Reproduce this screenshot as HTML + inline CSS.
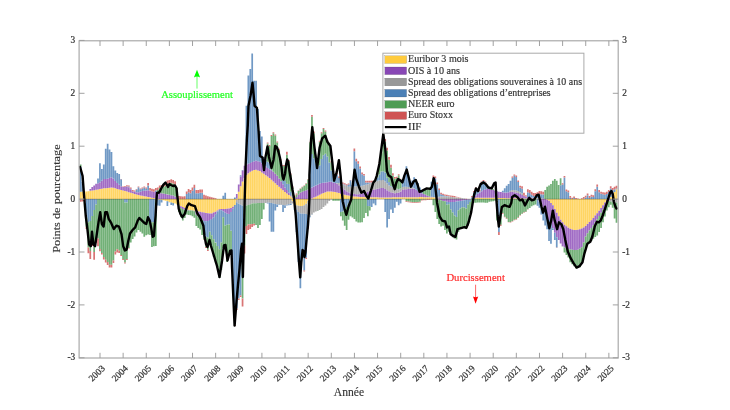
<!DOCTYPE html>
<html><head><meta charset="utf-8"><title>IIF</title>
<style>html,body{margin:0;padding:0;background:#fff;width:730px;height:410px;overflow:hidden}body{position:relative;font-family:"Liberation Serif",serif}</style></head>
<body>
<svg width="730" height="410" viewBox="0 0 730 410" style="position:absolute;left:0;top:0">
<rect width="730" height="410" fill="#fff"/>
<g filter="url(#soft)">
<g>
<path d="M79.79 191.64h1.72v7.46h-1.72zM81.72 191.5h1.72v7.6h-1.72zM83.65 191.6h1.72v7.5h-1.72zM85.57 191.42h1.72v7.68h-1.72zM87.5 191.2h1.72v7.9h-1.72zM89.43 190.78h1.72v8.32h-1.72zM91.36 190.5h1.72v8.6h-1.72zM93.28 190.21h1.72v8.89h-1.72zM95.21 189.87h1.72v9.23h-1.72zM97.14 189.48h1.72v9.62h-1.72zM99.07 189.1h1.72v10h-1.72zM100.99 188.71h1.72v10.39h-1.72zM102.92 188.34h1.72v10.76h-1.72zM104.85 188.15h1.72v10.95h-1.72zM106.78 187.96h1.72v11.14h-1.72zM108.7 187.77h1.72v11.33h-1.72zM110.63 187.57h1.72v11.53h-1.72zM112.56 187.85h1.72v11.25h-1.72zM114.48 188.37h1.72v10.73h-1.72zM116.41 188.88h1.72v10.22h-1.72zM118.34 189.39h1.72v9.71h-1.72zM120.27 189.91h1.72v9.19h-1.72zM122.2 190.44h1.72v8.66h-1.72zM124.12 191.02h1.72v8.08h-1.72zM126.05 191.6h1.72v7.5h-1.72zM127.98 192.18h1.72v6.92h-1.72zM129.91 192.76h1.72v6.34h-1.72zM131.83 193.34h1.72v5.76h-1.72zM133.76 193.91h1.72v5.19h-1.72zM135.69 194.49h1.72v4.61h-1.72zM137.62 195h1.72v4.1h-1.72zM139.54 195.38h1.72v3.72h-1.72zM141.47 195.77h1.72v3.33h-1.72zM143.4 196.15h1.72v2.95h-1.72zM145.32 196.54h1.72v2.56h-1.72zM147.25 196.92h1.72v2.18h-1.72zM149.18 197.31h1.72v1.79h-1.72zM151.11 197.69h1.72v1.41h-1.72zM153.03 198.11h1.72v0.99h-1.72zM154.96 198.58h1.72v0.52h-1.72zM156.89 199.1h1.72v0.31h-1.72zM158.82 199.1h1.72v0.53h-1.72zM160.75 199.1h1.72v0.74h-1.72zM162.67 199.1h1.72v1.06h-1.72zM164.6 199.1h1.72v1.64h-1.72zM166.53 199.1h1.72v2.22h-1.72zM168.45 199.1h1.72v2.79h-1.72zM170.38 199.1h1.72v3.37h-1.72zM172.31 199.1h1.72v3.97h-1.72zM174.24 199.1h1.72v4.5h-1.72zM176.16 199.1h1.72v5.4h-1.72zM178.09 199.1h1.72v6.28h-1.72zM180.02 199.1h1.72v7.05h-1.72zM181.95 199.1h1.72v7.82h-1.72zM183.88 199.1h1.72v8.94h-1.72zM185.8 199.1h1.72v10.1h-1.72zM187.73 199.1h1.72v10.97h-1.72zM189.66 199.1h1.72v11.21h-1.72zM191.58 199.1h1.72v11.46h-1.72zM193.51 199.1h1.72v11.7h-1.72zM195.44 199.1h1.72v11.96h-1.72zM197.37 199.1h1.72v12.35h-1.72zM199.29 199.1h1.72v12.73h-1.72zM201.22 199.1h1.72v13.12h-1.72zM203.15 199.1h1.72v13.5h-1.72zM205.08 199.1h1.72v13.89h-1.72zM207 199.1h1.72v14.2h-1.72zM208.93 199.1h1.72v14.51h-1.72zM210.86 199.1h1.72v14.37h-1.72zM212.79 199.1h1.72v13.48h-1.72zM214.72 199.1h1.72v12.6h-1.72zM216.64 199.1h1.72v11.46h-1.72zM218.57 199.1h1.72v10.26h-1.72zM220.5 199.1h1.72v9.9h-1.72zM222.42 199.1h1.72v9.9h-1.72zM224.35 199.1h1.72v9.9h-1.72zM226.28 199.1h1.72v9.67h-1.72zM228.21 199.1h1.72v9.29h-1.72zM230.13 199.1h1.72v8.9h-1.72zM232.06 199.1h1.72v7.53h-1.72zM233.99 199.1h1.72v5.82h-1.72zM235.92 198.62h1.72v0.48h-1.72zM235.92 199.1h1.72v0.95h-1.72zM237.84 191.69h1.72v7.41h-1.72zM239.77 186.27h1.72v12.83h-1.72zM241.7 181.45h1.72v17.65h-1.72zM243.63 178h1.72v21.1h-1.72zM245.55 174.94h1.72v24.16h-1.72zM247.48 173.33h1.72v25.77h-1.72zM249.41 171.73h1.72v27.37h-1.72zM251.34 170.63h1.72v28.47h-1.72zM253.26 170.02h1.72v29.08h-1.72zM255.19 169.78h1.72v29.32h-1.72zM257.12 170.4h1.72v28.7h-1.72zM259.05 171.08h1.72v28.02h-1.72zM260.98 172.43h1.72v26.67h-1.72zM262.9 173.78h1.72v25.32h-1.72zM264.83 175.13h1.72v23.97h-1.72zM266.76 176.48h1.72v22.62h-1.72zM268.69 178.09h1.72v21.01h-1.72zM270.61 179.82h1.72v19.28h-1.72zM272.54 181.55h1.72v17.55h-1.72zM274.47 183.29h1.72v15.81h-1.72zM276.39 185.02h1.72v14.08h-1.72zM278.32 186.76h1.72v12.34h-1.72zM280.25 188.49h1.72v10.61h-1.72zM282.18 190.23h1.72v8.87h-1.72zM284.11 191.96h1.72v7.14h-1.72zM286.03 193.46h1.72v5.64h-1.72zM287.96 194.91h1.72v4.19h-1.72zM289.89 196.35h1.72v2.75h-1.72zM291.81 197.64h1.72v1.46h-1.72zM291.81 199.1h1.72v2.18h-1.72zM293.74 198.51h1.72v0.59h-1.72zM293.74 199.1h1.72v4.46h-1.72zM295.67 199.1h1.72v6.26h-1.72zM297.6 199.1h1.72v6.75h-1.72zM299.52 199.1h1.72v6.81h-1.72zM301.45 199.1h1.72v6.88h-1.72zM303.38 199.1h1.72v6.07h-1.72zM305.31 199.1h1.72v4.67h-1.72zM307.24 199.1h1.72v1.97h-1.72zM311.09 198.38h1.72v0.72h-1.72zM313.02 197.51h1.72v1.59h-1.72zM314.94 196.64h1.72v2.46h-1.72zM316.87 195.74h1.72v3.36h-1.72zM318.8 194.78h1.72v4.32h-1.72zM320.73 193.81h1.72v5.29h-1.72zM322.65 192.98h1.72v6.12h-1.72zM324.58 192.21h1.72v6.89h-1.72zM326.51 191.47h1.72v7.63h-1.72zM328.44 191.47h1.72v7.63h-1.72zM330.37 191.47h1.72v7.63h-1.72zM332.29 191.64h1.72v7.46h-1.72zM334.22 192.09h1.72v7.01h-1.72zM336.15 192.54h1.72v6.56h-1.72zM338.08 193.08h1.72v6.02h-1.72zM340 193.66h1.72v5.44h-1.72zM341.93 194.24h1.72v4.86h-1.72zM343.86 194.78h1.72v4.32h-1.72zM345.78 195.17h1.72v3.93h-1.72zM347.71 195.55h1.72v3.55h-1.72zM349.64 195.94h1.72v3.16h-1.72zM351.57 196.2h1.72v2.9h-1.72zM353.5 196.39h1.72v2.71h-1.72zM355.42 196.58h1.72v2.52h-1.72zM357.35 196.78h1.72v2.32h-1.72zM359.28 196.94h1.72v2.16h-1.72zM361.21 197.02h1.72v2.08h-1.72zM363.13 197.1h1.72v2h-1.72zM365.06 197.18h1.72v1.92h-1.72zM366.99 197.25h1.72v1.85h-1.72zM368.91 197.28h1.72v1.82h-1.72zM370.84 197.3h1.72v1.8h-1.72zM372.77 197.32h1.72v1.78h-1.72zM374.7 197.34h1.72v1.76h-1.72zM376.62 197.36h1.72v1.74h-1.72zM378.55 197.38h1.72v1.72h-1.72zM380.48 197.4h1.72v1.7h-1.72zM382.41 197.42h1.72v1.68h-1.72zM384.34 197.44h1.72v1.66h-1.72zM386.26 197.42h1.72v1.68h-1.72zM388.19 197.4h1.72v1.7h-1.72zM390.12 197.38h1.72v1.72h-1.72zM392.04 197.36h1.72v1.74h-1.72zM393.97 197.35h1.72v1.75h-1.72zM395.9 197.33h1.72v1.77h-1.72zM397.83 197.31h1.72v1.79h-1.72zM399.75 197.29h1.72v1.81h-1.72zM401.68 197.27h1.72v1.83h-1.72zM403.61 197.25h1.72v1.85h-1.72zM405.54 197.23h1.72v1.87h-1.72zM407.47 197.22h1.72v1.88h-1.72zM409.39 197.2h1.72v1.9h-1.72zM411.32 197.18h1.72v1.92h-1.72zM413.25 197.17h1.72v1.93h-1.72zM415.17 197.15h1.72v1.95h-1.72zM417.1 197.13h1.72v1.97h-1.72zM419.03 197.12h1.72v1.98h-1.72zM420.96 197.1h1.72v2h-1.72zM422.88 197.14h1.72v1.96h-1.72zM424.81 197.18h1.72v1.92h-1.72zM426.74 197.22h1.72v1.88h-1.72zM428.67 197.26h1.72v1.84h-1.72zM430.6 197.3h1.72v1.8h-1.72zM432.52 197.34h1.72v1.76h-1.72zM434.45 197.39h1.72v1.71h-1.72zM436.38 198.45h1.72v0.65h-1.72zM473 198.4h1.72v0.7h-1.72zM474.93 197.68h1.72v1.42h-1.72zM476.86 197.62h1.72v1.48h-1.72zM478.78 197.64h1.72v1.46h-1.72zM480.71 197.66h1.72v1.44h-1.72zM482.64 197.67h1.72v1.43h-1.72zM484.56 197.69h1.72v1.41h-1.72zM486.49 197.71h1.72v1.39h-1.72zM488.42 197.73h1.72v1.37h-1.72zM490.35 197.75h1.72v1.35h-1.72zM492.27 197.77h1.72v1.33h-1.72zM494.2 197.79h1.72v1.31h-1.72zM496.13 197.84h1.72v1.26h-1.72zM498.06 197.9h1.72v1.2h-1.72zM499.99 197.97h1.72v1.13h-1.72zM501.91 198.04h1.72v1.06h-1.72zM503.84 198.11h1.72v0.99h-1.72zM505.77 198.18h1.72v0.92h-1.72zM507.69 198.25h1.72v0.85h-1.72zM509.62 198.3h1.72v0.8h-1.72zM511.55 198.32h1.72v0.78h-1.72zM513.48 198.33h1.72v0.77h-1.72zM515.4 198.34h1.72v0.76h-1.72zM517.33 198.35h1.72v0.75h-1.72zM519.26 198.37h1.72v0.73h-1.72zM521.19 198.38h1.72v0.72h-1.72zM523.12 198.39h1.72v0.71h-1.72zM525.04 198.41h1.72v0.69h-1.72zM526.97 198.42h1.72v0.68h-1.72zM528.9 198.43h1.72v0.67h-1.72zM530.83 198.44h1.72v0.66h-1.72zM532.75 198.46h1.72v0.64h-1.72zM534.68 198.47h1.72v0.63h-1.72zM536.61 198.48h1.72v0.62h-1.72zM538.53 198.5h1.72v0.6h-1.72zM540.46 198.7h1.72v0.4h-1.72zM546.25 199.1h1.72v0.67h-1.72zM548.17 199.1h1.72v1.63h-1.72zM550.1 199.1h1.72v3.86h-1.72zM552.03 199.1h1.72v6.27h-1.72zM553.96 199.1h1.72v9.9h-1.72zM555.88 199.1h1.72v13.75h-1.72zM557.81 199.1h1.72v17.21h-1.72zM559.74 199.1h1.72v20.59h-1.72zM561.66 199.1h1.72v23.19h-1.72zM563.59 199.1h1.72v25.6h-1.72zM565.52 199.1h1.72v27.27h-1.72zM567.45 199.1h1.72v28.71h-1.72zM569.38 199.1h1.72v29.66h-1.72zM571.3 199.1h1.72v30.43h-1.72zM573.23 199.1h1.72v30.78h-1.72zM575.16 199.1h1.72v30.98h-1.72zM577.09 199.1h1.72v30.7h-1.72zM579.01 199.1h1.72v30.22h-1.72zM580.94 199.1h1.72v29.42h-1.72zM582.87 199.1h1.72v28.45h-1.72zM584.79 199.1h1.72v26.87h-1.72zM586.72 199.1h1.72v24.94h-1.72zM588.65 199.1h1.72v23.01h-1.72zM590.58 199.1h1.72v21.09h-1.72zM592.5 199.1h1.72v18.87h-1.72zM594.43 199.1h1.72v16.46h-1.72zM596.36 199.1h1.72v14.05h-1.72zM598.29 199.1h1.72v11.64h-1.72zM600.21 199.1h1.72v8.97h-1.72zM602.14 199.1h1.72v6.08h-1.72zM604.07 199.1h1.72v3.36h-1.72zM606 199.1h1.72v0.79h-1.72zM609.85 196.93h1.72v2.17h-1.72zM611.78 194.78h1.72v4.32h-1.72zM613.71 192.02h1.72v7.08h-1.72zM615.63 189.28h1.72v9.82h-1.72z" fill="#ffd564"/>
<path d="M89.43 188.9h1.72v1.88h-1.72zM91.36 186.99h1.72v3.51h-1.72zM93.28 185.39h1.72v4.81h-1.72zM95.21 184.1h1.72v5.76h-1.72zM97.14 183.14h1.72v6.34h-1.72zM99.07 182.18h1.72v6.92h-1.72zM100.99 180.63h1.72v8.08h-1.72zM102.92 179.12h1.72v9.22h-1.72zM104.85 178.89h1.72v9.26h-1.72zM106.78 178.66h1.72v9.3h-1.72zM108.7 177.96h1.72v9.81h-1.72zM110.63 177.18h1.72v10.39h-1.72zM112.56 178.65h1.72v9.21h-1.72zM114.48 181h1.72v7.37h-1.72zM116.41 182.92h1.72v5.96h-1.72zM118.34 184.79h1.72v4.6h-1.72zM120.27 186.24h1.72v3.67h-1.72zM122.2 187.05h1.72v3.39h-1.72zM124.12 186.73h1.72v4.29h-1.72zM126.05 186.41h1.72v5.19h-1.72zM127.98 187.34h1.72v4.84h-1.72zM129.91 189.27h1.72v3.49h-1.72zM131.83 191.19h1.72v2.14h-1.72zM133.76 191.82h1.72v2.09h-1.72zM135.69 192.21h1.72v2.28h-1.72zM137.62 192.34h1.72v2.66h-1.72zM139.54 191.68h1.72v3.7h-1.72zM141.47 191.03h1.72v4.74h-1.72zM143.4 190.67h1.72v5.48h-1.72zM145.32 190.48h1.72v6.06h-1.72zM147.25 190.33h1.72v6.6h-1.72zM149.18 190.79h1.72v6.52h-1.72zM151.11 191.25h1.72v6.44h-1.72zM153.03 191.68h1.72v6.43h-1.72zM154.96 192.06h1.72v6.51h-1.72zM156.89 192.45h1.72v6.65h-1.72zM158.82 192.84h1.72v6.26h-1.72zM160.75 193.22h1.72v5.88h-1.72zM162.67 193.61h1.72v5.49h-1.72zM164.6 193.99h1.72v5.11h-1.72zM166.53 194.38h1.72v4.72h-1.72zM168.45 194.76h1.72v4.34h-1.72zM170.38 195.15h1.72v3.95h-1.72zM172.31 195.59h1.72v3.51h-1.72zM174.24 196.55h1.72v2.55h-1.72zM176.16 198.03h1.72v1.07h-1.72zM178.09 205.38h1.72v0.57h-1.72zM180.02 206.15h1.72v1.73h-1.72zM181.95 206.92h1.72v1.98h-1.72zM183.88 208.04h1.72v1.83h-1.72zM185.8 209.2h1.72v1.31h-1.72zM187.73 210.07h1.72v0.46h-1.72zM189.66 210.31h1.72v0.24h-1.72zM193.51 210.8h1.72v0.53h-1.72zM195.44 211.06h1.72v3.7h-1.72zM197.37 211.45h1.72v5h-1.72zM199.29 211.83h1.72v6.29h-1.72zM201.22 212.22h1.72v7.35h-1.72zM203.15 212.6h1.72v8.4h-1.72zM205.08 212.99h1.72v8.34h-1.72zM207 213.3h1.72v7.77h-1.72zM208.93 213.61h1.72v6.5h-1.72zM210.86 213.47h1.72v5.43h-1.72zM212.79 212.58h1.72v4.71h-1.72zM214.72 211.7h1.72v2.68h-1.72zM216.64 210.56h1.72v1.02h-1.72zM218.57 209.36h1.72v0.62h-1.72zM220.5 209h1.72v1.18h-1.72zM222.42 209h1.72v2.24h-1.72zM224.35 209h1.72v3.84h-1.72zM226.28 208.77h1.72v4.92h-1.72zM228.21 208.39h1.72v5.55h-1.72zM230.13 208h1.72v4h-1.72zM232.06 206.63h1.72v2.01h-1.72zM235.92 194h1.72v4.62h-1.72zM237.84 184.6h1.72v7.09h-1.72zM239.77 176.41h1.72v9.86h-1.72zM241.7 170.41h1.72v11.04h-1.72zM243.63 165.8h1.72v12.2h-1.72zM245.55 164.81h1.72v10.13h-1.72zM247.48 163.85h1.72v9.48h-1.72zM249.41 162.89h1.72v8.84h-1.72zM251.34 162.02h1.72v8.61h-1.72zM253.26 161.25h1.72v8.77h-1.72zM255.19 160.84h1.72v8.94h-1.72zM257.12 161.22h1.72v9.18h-1.72zM259.05 161.71h1.72v9.37h-1.72zM260.98 163.26h1.72v9.17h-1.72zM262.9 164.8h1.72v8.98h-1.72zM264.83 166.34h1.72v8.79h-1.72zM266.76 167.88h1.72v8.6h-1.72zM268.69 169.17h1.72v8.92h-1.72zM270.61 170.32h1.72v9.5h-1.72zM272.54 171.83h1.72v9.72h-1.72zM274.47 173.76h1.72v9.53h-1.72zM276.39 175.87h1.72v9.15h-1.72zM278.32 178.57h1.72v8.19h-1.72zM280.25 181.28h1.72v7.22h-1.72zM282.18 184.36h1.72v5.87h-1.72zM284.11 187.45h1.72v4.52h-1.72zM286.03 190.11h1.72v3.35h-1.72zM287.96 192.68h1.72v2.23h-1.72zM289.89 195.15h1.72v1.2h-1.72zM291.81 197.08h1.72v0.56h-1.72zM295.67 197.01h1.72v2.09h-1.72zM297.6 194.64h1.72v4.46h-1.72zM299.52 192.52h1.72v6.58h-1.72zM301.45 191.79h1.72v7.31h-1.72zM303.38 191.07h1.72v8.03h-1.72zM305.31 190.35h1.72v8.75h-1.72zM307.24 189.47h1.72v9.63h-1.72zM309.16 188.5h1.72v10.6h-1.72zM311.09 187.54h1.72v10.84h-1.72zM313.02 186.58h1.72v10.93h-1.72zM314.94 185.61h1.72v11.03h-1.72zM316.87 184.65h1.72v11.09h-1.72zM318.8 183.69h1.72v11.09h-1.72zM320.73 183.09h1.72v10.72h-1.72zM322.65 182.77h1.72v10.21h-1.72zM324.58 182.45h1.72v9.76h-1.72zM326.51 182.13h1.72v9.34h-1.72zM328.44 181.81h1.72v9.66h-1.72zM330.37 181.74h1.72v9.73h-1.72zM332.29 182.38h1.72v9.26h-1.72zM334.22 183.02h1.72v9.06h-1.72zM336.15 184.06h1.72v8.48h-1.72zM338.08 185.34h1.72v7.74h-1.72zM340 186.63h1.72v7.03h-1.72zM341.93 188.22h1.72v6.02h-1.72zM343.86 189.82h1.72v4.96h-1.72zM345.78 191.24h1.72v3.92h-1.72zM347.71 192.2h1.72v3.35h-1.72zM349.64 193.17h1.72v2.77h-1.72zM351.57 193.67h1.72v2.53h-1.72zM353.5 193.91h1.72v2.48h-1.72zM355.42 194.15h1.72v2.43h-1.72zM357.35 194.32h1.72v2.46h-1.72zM359.28 193.84h1.72v3.11h-1.72zM361.21 193.36h1.72v3.66h-1.72zM363.13 192.88h1.72v4.22h-1.72zM365.06 192.26h1.72v4.92h-1.72zM366.99 191.54h1.72v5.72h-1.72zM368.91 190.81h1.72v6.47h-1.72zM370.84 190.09h1.72v7.21h-1.72zM372.77 189.61h1.72v7.71h-1.72zM374.7 189.13h1.72v8.21h-1.72zM376.62 188.65h1.72v8.71h-1.72zM378.55 188.3h1.72v9.08h-1.72zM380.48 188.11h1.72v9.29h-1.72zM382.41 187.92h1.72v9.5h-1.72zM384.34 188.89h1.72v8.55h-1.72zM386.26 190.13h1.72v7.3h-1.72zM388.19 191.2h1.72v6.21h-1.72zM390.12 192.16h1.72v5.22h-1.72zM392.04 192.77h1.72v4.59h-1.72zM393.97 193.31h1.72v4.03h-1.72zM395.9 193.11h1.72v4.22h-1.72zM397.83 192.45h1.72v4.86h-1.72zM399.75 191.49h1.72v5.8h-1.72zM401.68 189.88h1.72v7.39h-1.72zM403.61 189.35h1.72v7.9h-1.72zM405.54 189.16h1.72v8.07h-1.72zM407.47 188.95h1.72v8.26h-1.72zM409.39 188.68h1.72v8.52h-1.72zM411.32 188.41h1.72v8.77h-1.72zM413.25 188.9h1.72v8.27h-1.72zM415.17 189.94h1.72v7.21h-1.72zM417.1 190.98h1.72v6.15h-1.72zM419.03 192.06h1.72v5.06h-1.72zM420.96 193.14h1.72v3.96h-1.72zM422.88 194.1h1.72v3.04h-1.72zM424.81 194.87h1.72v2.31h-1.72zM426.74 195.64h1.72v1.58h-1.72zM428.67 196.31h1.72v0.95h-1.72zM430.6 196.85h1.72v0.45h-1.72zM432.52 197.09h1.72v0.26h-1.72zM436.38 197.73h1.72v0.72h-1.72zM438.3 198.24h1.72v0.86h-1.72zM438.3 199.1h1.72v0.64h-1.72zM440.23 199.1h1.72v1.23h-1.72zM442.16 199.1h1.72v1.83h-1.72zM444.09 199.1h1.72v2.26h-1.72zM446.01 199.1h1.72v2.57h-1.72zM447.94 199.1h1.72v2.87h-1.72zM449.87 199.1h1.72v2.9h-1.72zM451.8 199.1h1.72v2.9h-1.72zM453.73 199.1h1.72v2.82h-1.72zM455.65 199.1h1.72v2.52h-1.72zM457.58 199.1h1.72v2.22h-1.72zM459.51 199.1h1.72v1.9h-1.72zM461.43 199.1h1.72v1.56h-1.72zM463.36 199.1h1.72v1.23h-1.72zM465.29 199.1h1.72v0.99h-1.72zM467.22 199.1h1.72v0.77h-1.72zM469.14 199.1h1.72v0.54h-1.72zM473 196.98h1.72v1.42h-1.72zM474.93 195.38h1.72v2.3h-1.72zM476.86 193.77h1.72v3.85h-1.72zM478.78 192.43h1.72v5.2h-1.72zM480.71 191.15h1.72v6.51h-1.72zM482.64 189.98h1.72v7.69h-1.72zM484.56 189.34h1.72v8.35h-1.72zM486.49 188.7h1.72v9.02h-1.72zM488.42 188.74h1.72v9h-1.72zM490.35 189.38h1.72v8.37h-1.72zM492.27 190.02h1.72v7.75h-1.72zM494.2 190.66h1.72v7.13h-1.72zM496.13 191.31h1.72v6.53h-1.72zM498.06 191.86h1.72v6.04h-1.72zM499.99 192.1h1.72v5.87h-1.72zM501.91 192.34h1.72v5.7h-1.72zM503.84 192.58h1.72v5.53h-1.72zM505.77 192.5h1.72v5.68h-1.72zM507.69 192.26h1.72v5.99h-1.72zM509.62 192.02h1.72v6.29h-1.72zM511.55 191.85h1.72v6.46h-1.72zM513.48 192.17h1.72v6.16h-1.72zM515.4 192.49h1.72v5.85h-1.72zM517.33 193.12h1.72v5.23h-1.72zM519.26 194.09h1.72v4.28h-1.72zM521.19 195.05h1.72v3.33h-1.72zM523.12 195.75h1.72v2.64h-1.72zM525.04 196.39h1.72v2.01h-1.72zM526.97 196.98h1.72v1.44h-1.72zM528.9 197.3h1.72v1.13h-1.72zM530.83 197.62h1.72v0.82h-1.72zM532.75 197.86h1.72v0.6h-1.72zM534.68 198h1.72v0.47h-1.72zM536.61 198.14h1.72v0.34h-1.72zM538.53 198.29h1.72v0.21h-1.72zM538.53 199.1h1.72v2.54h-1.72zM540.46 198.38h1.72v0.32h-1.72zM540.46 199.1h1.72v5.74h-1.72zM542.39 198.47h1.72v0.52h-1.72zM542.39 199.1h1.72v9.22h-1.72zM544.32 199.1h1.72v13.07h-1.72zM546.25 199.77h1.72v16.26h-1.72zM548.17 200.73h1.72v19.15h-1.72zM550.1 202.96h1.72v20.78h-1.72zM552.03 205.37h1.72v22.78h-1.72zM553.96 209h1.72v23.64h-1.72zM555.88 212.85h1.72v24.28h-1.72zM557.81 216.31h1.72v23.59h-1.72zM559.74 219.69h1.72v23.81h-1.72zM561.66 222.29h1.72v23.88h-1.72zM563.59 224.7h1.72v22.78h-1.72zM565.52 226.37h1.72v22.08h-1.72zM567.45 227.81h1.72v21.23h-1.72zM569.38 228.76h1.72v20.77h-1.72zM571.3 229.53h1.72v20.27h-1.72zM573.23 229.88h1.72v20.11h-1.72zM575.16 230.08h1.72v19.83h-1.72zM577.09 229.8h1.72v19.92h-1.72zM579.01 229.32h1.72v19.35h-1.72zM580.94 228.52h1.72v18.71h-1.72zM582.87 227.55h1.72v14.96h-1.72zM584.79 225.97h1.72v10.56h-1.72zM586.72 224.04h1.72v9.28h-1.72zM588.65 222.11h1.72v8.39h-1.72zM590.58 220.19h1.72v7.74h-1.72zM592.5 217.97h1.72v7.39h-1.72zM594.43 215.56h1.72v6.85h-1.72zM596.36 213.15h1.72v6.05h-1.72zM598.29 210.74h1.72v5.25h-1.72zM600.21 208.07h1.72v4.71h-1.72zM602.14 205.18h1.72v4.38h-1.72zM604.07 202.46h1.72v3.9h-1.72zM606 199.89h1.72v3.58h-1.72zM607.92 199.1h1.72v1.8h-1.72z" fill="#a06bc4"/>
<path d="M235.92 200.05h1.72v2.09h-1.72zM237.84 199.1h1.72v4.75h-1.72zM239.77 199.1h1.72v5.72h-1.72zM241.7 199.1h1.72v6.68h-1.72zM243.63 199.1h1.72v6.71h-1.72zM245.55 199.1h1.72v6.47h-1.72zM247.48 199.1h1.72v5.86h-1.72zM249.41 199.1h1.72v5.09h-1.72zM251.34 199.1h1.72v4.38h-1.72zM253.26 199.1h1.72v4.22h-1.72zM255.19 199.1h1.72v4.06h-1.72zM257.12 199.1h1.72v3.9h-1.72zM259.05 199.1h1.72v3.9h-1.72zM260.98 199.1h1.72v3.9h-1.72zM262.9 199.1h1.72v3.9h-1.72zM264.83 199.1h1.72v3.81h-1.72zM266.76 199.1h1.72v3.57h-1.72zM268.69 199.1h1.72v3.53h-1.72zM270.61 199.1h1.72v4h-1.72zM272.54 199.1h1.72v4.47h-1.72zM274.47 199.1h1.72v4.94h-1.72zM276.39 199.1h1.72v5.34h-1.72zM278.32 199.1h1.72v5.52h-1.72zM280.25 199.1h1.72v5.71h-1.72zM282.18 199.1h1.72v5.89h-1.72zM284.11 199.1h1.72v6.07h-1.72zM286.03 199.1h1.72v5.7h-1.72zM287.96 199.1h1.72v5.21h-1.72zM289.89 199.1h1.72v4.72h-1.72zM291.81 201.28h1.72v2.22h-1.72zM293.74 203.56h1.72v3.76h-1.72zM295.67 205.36h1.72v4.59h-1.72zM297.6 205.85h1.72v6.22h-1.72zM299.52 205.91h1.72v7.62h-1.72zM301.45 205.98h1.72v7.69h-1.72zM303.38 205.17h1.72v8.64h-1.72zM305.31 203.77h1.72v10.19h-1.72zM307.24 201.07h1.72v13.89h-1.72zM309.16 199.1h1.72v17.27h-1.72zM311.09 199.1h1.72v15.4h-1.72zM313.02 199.1h1.72v13.32h-1.72zM314.94 199.1h1.72v12.44h-1.72zM316.87 199.1h1.72v11.65h-1.72zM318.8 199.1h1.72v10.99h-1.72zM320.73 199.1h1.72v9.8h-1.72zM322.65 199.1h1.72v7.9h-1.72zM324.58 199.1h1.72v6.31h-1.72zM326.51 199.1h1.72v4.34h-1.72zM328.44 199.1h1.72v1.9h-1.72zM330.37 199.1h1.72v0.3h-1.72zM336.15 183.21h1.72v0.85h-1.72zM338.08 183.02h1.72v2.32h-1.72zM340 183.52h1.72v3.1h-1.72zM341.93 184.15h1.72v4.07h-1.72zM343.86 185.13h1.72v4.7h-1.72zM345.78 186.11h1.72v5.13h-1.72zM347.71 186.7h1.72v5.5h-1.72zM349.64 186.7h1.72v6.47h-1.72zM351.57 186.7h1.72v6.97h-1.72zM353.5 186.56h1.72v7.35h-1.72zM355.42 186.37h1.72v7.78h-1.72zM357.35 186.17h1.72v8.15h-1.72zM359.28 185.91h1.72v7.93h-1.72zM361.21 185.64h1.72v7.72h-1.72zM363.13 185.26h1.72v7.62h-1.72zM365.06 184.74h1.72v7.52h-1.72zM366.99 184.22h1.72v7.31h-1.72zM368.91 183.61h1.72v7.21h-1.72zM370.84 182.97h1.72v7.13h-1.72zM372.77 182.31h1.72v7.3h-1.72zM374.7 181.55h1.72v7.58h-1.72zM376.62 180.8h1.72v7.85h-1.72zM378.55 180.31h1.72v7.99h-1.72zM380.48 180.12h1.72v7.99h-1.72zM382.41 179.93h1.72v7.99h-1.72zM384.34 181.59h1.72v7.3h-1.72zM386.26 183.62h1.72v6.5h-1.72zM388.19 185.55h1.72v5.65h-1.72zM390.12 186.88h1.72v5.29h-1.72zM392.04 187.62h1.72v5.15h-1.72zM393.97 188.33h1.72v4.98h-1.72zM395.9 189.01h1.72v4.1h-1.72zM397.83 189.69h1.72v2.76h-1.72zM399.75 188.47h1.72v3.02h-1.72zM401.68 186.88h1.72v3h-1.72zM403.61 186.65h1.72v2.71h-1.72zM405.54 186.84h1.72v2.32h-1.72zM407.47 187.02h1.72v1.94h-1.72zM409.39 187.14h1.72v1.55h-1.72zM411.32 187.25h1.72v1.16h-1.72zM413.25 188.15h1.72v0.74h-1.72zM415.17 189.64h1.72v0.3h-1.72zM436.38 197.16h1.72v0.57h-1.72zM438.3 196.85h1.72v1.39h-1.72zM440.23 196.55h1.72v2.55h-1.72zM442.16 196.43h1.72v2.67h-1.72zM444.09 196.47h1.72v2.63h-1.72zM446.01 196.52h1.72v2.58h-1.72zM447.94 196.57h1.72v2.53h-1.72zM449.87 196.69h1.72v2.41h-1.72zM451.8 196.91h1.72v2.19h-1.72zM453.73 197.13h1.72v1.97h-1.72zM455.65 197.38h1.72v1.72h-1.72zM457.58 197.67h1.72v1.43h-1.72zM459.51 197.96h1.72v1.14h-1.72zM461.43 198.25h1.72v0.85h-1.72zM463.36 198.6h1.72v0.5h-1.72zM509.62 190.8h1.72v1.21h-1.72zM511.55 190.12h1.72v1.74h-1.72zM513.48 190.27h1.72v1.91h-1.72zM515.4 190.42h1.72v2.08h-1.72zM517.33 191.03h1.72v2.1h-1.72zM519.26 192.16h1.72v1.93h-1.72zM521.19 193.29h1.72v1.76h-1.72zM609.85 199.1h1.72v2.48h-1.72zM611.78 199.1h1.72v3.12h-1.72zM613.71 199.1h1.72v3.37h-1.72zM615.63 199.1h1.72v3.62h-1.72z" fill="#adadad"/>
<path d="M79.79 166.8h1.72v24.84h-1.72zM81.72 182h1.72v9.5h-1.72zM85.57 199.1h1.72v18.25h-1.72zM87.5 199.1h1.72v23.1h-1.72zM89.43 199.1h1.72v21.84h-1.72zM91.36 199.1h1.72v16.82h-1.72zM93.28 199.1h1.72v10.88h-1.72zM95.21 183.78h1.72v0.32h-1.72zM95.21 199.1h1.72v5.49h-1.72zM97.14 178.5h1.72v4.64h-1.72zM99.07 163.2h1.72v18.98h-1.72zM100.99 169h1.72v11.63h-1.72zM102.92 164.5h1.72v14.62h-1.72zM104.85 148.8h1.72v30.09h-1.72zM106.78 143.8h1.72v34.86h-1.72zM108.7 149.5h1.72v28.46h-1.72zM110.63 152h1.72v25.18h-1.72zM112.56 166.2h1.72v12.45h-1.72zM114.48 170.5h1.72v10.5h-1.72zM116.41 173h1.72v9.92h-1.72zM118.34 174h1.72v10.79h-1.72zM120.27 179.28h1.72v6.95h-1.72zM122.2 199.1h1.72v0.19h-1.72zM124.12 199.1h1.72v3.4h-1.72zM126.05 186.2h1.72v0.21h-1.72zM126.05 199.1h1.72v3.4h-1.72zM127.98 186.5h1.72v0.83h-1.72zM129.91 188.75h1.72v0.52h-1.72zM133.76 191.56h1.72v0.27h-1.72zM135.69 189.6h1.72v2.61h-1.72zM137.62 187.22h1.72v5.11h-1.72zM139.54 189.35h1.72v2.34h-1.72zM141.47 188.47h1.72v2.56h-1.72zM143.4 187.59h1.72v3.08h-1.72zM145.32 188.8h1.72v1.68h-1.72zM147.25 185.39h1.72v4.93h-1.72zM149.18 190.5h1.72v0.29h-1.72zM149.18 199.1h1.72v23.2h-1.72zM151.11 199.1h1.72v23.2h-1.72zM153.03 199.1h1.72v23.2h-1.72zM154.96 190.5h1.72v1.56h-1.72zM156.89 199.41h1.72v6.09h-1.72zM158.82 199.63h1.72v6.17h-1.72zM160.75 199.84h1.72v2.55h-1.72zM166.53 201.32h1.72v4.68h-1.72zM168.45 201.89h1.72v0.41h-1.72zM170.38 202.47h1.72v2.53h-1.72zM172.31 203.07h1.72v2.43h-1.72zM185.8 194.01h1.72v5.09h-1.72zM187.73 192.2h1.72v6.9h-1.72zM189.66 193.21h1.72v5.89h-1.72zM191.58 190.73h1.72v8.37h-1.72zM193.51 188.04h1.72v11.06h-1.72zM195.44 193.26h1.72v5.84h-1.72zM197.37 193.27h1.72v5.83h-1.72zM199.29 192.78h1.72v6.32h-1.72zM201.22 192.8h1.72v6.3h-1.72zM203.15 221h1.72v11.02h-1.72zM205.08 221.32h1.72v15.52h-1.72zM207 221.07h1.72v16.55h-1.72zM208.93 220.1h1.72v11.56h-1.72zM210.86 218.9h1.72v16.26h-1.72zM212.79 217.29h1.72v22h-1.72zM214.72 214.37h1.72v28.25h-1.72zM216.64 211.58h1.72v34.32h-1.72zM218.57 209.97h1.72v39.4h-1.72zM220.5 210.18h1.72v32.25h-1.72zM222.42 195.7h1.72v3.4h-1.72zM222.42 211.24h1.72v5.92h-1.72zM224.35 192.8h1.72v6.3h-1.72zM224.35 212.84h1.72v12.58h-1.72zM226.28 213.69h1.72v11.03h-1.72zM228.21 213.93h1.72v10.67h-1.72zM230.13 212h1.72v18.64h-1.72zM232.06 208.64h1.72v80.67h-1.72zM233.99 197.4h1.72v1.7h-1.72zM233.99 204.92h1.72v119.58h-1.72zM235.92 202.13h1.72v106.37h-1.72zM237.84 203.85h1.72v94.65h-1.72zM239.77 175.2h1.72v1.21h-1.72zM239.77 204.82h1.72v90.68h-1.72zM241.7 170.1h1.72v0.31h-1.72zM241.7 205.78h1.72v56.58h-1.72zM245.55 105.8h1.72v59.01h-1.72zM247.48 75.4h1.72v88.45h-1.72zM249.41 69.1h1.72v93.79h-1.72zM251.34 53.4h1.72v108.62h-1.72zM253.26 80.7h1.72v80.55h-1.72zM255.19 80.7h1.72v80.14h-1.72zM257.12 109h1.72v52.22h-1.72zM259.05 131h1.72v30.71h-1.72zM260.98 136.5h1.72v26.76h-1.72zM262.9 157h1.72v7.8h-1.72zM264.83 160h1.72v6.34h-1.72zM266.76 161.81h1.72v6.07h-1.72zM266.76 202.67h1.72v0.83h-1.72zM268.69 162.77h1.72v6.39h-1.72zM268.69 202.63h1.72v18.87h-1.72zM270.61 169.63h1.72v0.7h-1.72zM270.61 203.1h1.72v28.6h-1.72zM272.54 203.57h1.72v28.13h-1.72zM274.47 204.04h1.72v6.36h-1.72zM276.39 204.44h1.72v2.56h-1.72zM278.32 204.62h1.72v0.38h-1.72zM280.25 204.81h1.72v0.19h-1.72zM282.18 180.02h1.72v4.34h-1.72zM282.18 204.99h1.72v7.01h-1.72zM284.11 180.98h1.72v6.46h-1.72zM284.11 205.17h1.72v2.83h-1.72zM286.03 183.84h1.72v6.27h-1.72zM286.03 204.8h1.72v0.7h-1.72zM287.96 184h1.72v8.68h-1.72zM287.96 204.31h1.72v0.86h-1.72zM289.89 191.86h1.72v3.29h-1.72zM289.89 203.82h1.72v1.18h-1.72zM291.81 196.41h1.72v0.67h-1.72zM293.74 207.32h1.72v2.68h-1.72zM295.67 209.95h1.72v22.05h-1.72zM297.6 212.07h1.72v49.93h-1.72zM299.52 213.53h1.72v74.67h-1.72zM301.45 213.67h1.72v38.33h-1.72zM303.38 213.81h1.72v56.59h-1.72zM305.31 213.95h1.72v43.85h-1.72zM307.24 214.95h1.72v12.55h-1.72zM309.16 158.92h1.72v29.58h-1.72zM309.16 216.37h1.72v0.83h-1.72zM311.09 153.91h1.72v33.63h-1.72zM311.09 214.5h1.72v0.22h-1.72zM313.02 158.19h1.72v28.39h-1.72zM314.94 163.36h1.72v22.25h-1.72zM316.87 166.41h1.72v18.24h-1.72zM318.8 165.18h1.72v18.51h-1.72zM320.73 159.04h1.72v24.06h-1.72zM322.65 155.26h1.72v27.52h-1.72zM324.58 153.68h1.72v28.77h-1.72zM326.51 156.53h1.72v25.6h-1.72zM328.44 162.38h1.72v19.43h-1.72zM330.37 170.49h1.72v11.25h-1.72zM332.29 174.31h1.72v8.07h-1.72zM334.22 175.88h1.72v7.14h-1.72zM336.15 174.48h1.72v8.72h-1.72zM338.08 178.04h1.72v4.99h-1.72zM340 181.32h1.72v2.2h-1.72zM340 199.1h1.72v12.9h-1.72zM341.93 183.79h1.72v0.36h-1.72zM341.93 199.1h1.72v12.46h-1.72zM343.86 184.49h1.72v0.64h-1.72zM343.86 199.1h1.72v11.52h-1.72zM345.78 185.62h1.72v0.49h-1.72zM345.78 199.1h1.72v7.98h-1.72zM347.71 184.44h1.72v2.26h-1.72zM347.71 199.1h1.72v4.45h-1.72zM349.64 180.2h1.72v6.5h-1.72zM351.57 185.3h1.72v1.4h-1.72zM353.5 151.21h1.72v35.35h-1.72zM355.42 161.27h1.72v25.1h-1.72zM357.35 163.65h1.72v22.52h-1.72zM359.28 168.53h1.72v17.37h-1.72zM361.21 174.32h1.72v11.32h-1.72zM363.13 175.6h1.72v9.66h-1.72zM365.06 182.4h1.72v2.34h-1.72zM366.99 182.4h1.72v1.82h-1.72zM366.99 199.1h1.72v6.9h-1.72zM368.91 182.4h1.72v1.21h-1.72zM368.91 199.1h1.72v7.07h-1.72zM370.84 182.4h1.72v0.57h-1.72zM370.84 199.1h1.72v7.8h-1.72zM372.77 199.1h1.72v4.4h-1.72zM374.7 180.62h1.72v0.93h-1.72zM374.7 199.1h1.72v6.1h-1.72zM376.62 177.59h1.72v3.2h-1.72zM378.55 174.52h1.72v5.79h-1.72zM380.48 171.41h1.72v8.72h-1.72zM382.41 171.16h1.72v8.77h-1.72zM384.34 172.52h1.72v9.07h-1.72zM384.34 199.1h1.72v13h-1.72zM386.26 177.66h1.72v5.96h-1.72zM386.26 199.1h1.72v28.3h-1.72zM388.19 182.1h1.72v3.45h-1.72zM388.19 199.1h1.72v19.8h-1.72zM390.12 185.95h1.72v0.92h-1.72zM390.12 199.1h1.72v10.4h-1.72zM392.04 186.95h1.72v0.66h-1.72zM392.04 199.1h1.72v13.8h-1.72zM393.97 187.92h1.72v0.41h-1.72zM393.97 199.1h1.72v8.7h-1.72zM395.9 188.73h1.72v0.28h-1.72zM395.9 199.1h1.72v2.7h-1.72zM397.83 189.33h1.72v0.36h-1.72zM397.83 199.1h1.72v6.1h-1.72zM399.75 199.1h1.72v4.4h-1.72zM401.68 181.72h1.72v5.16h-1.72zM403.61 175.6h1.72v11.05h-1.72zM405.54 166.2h1.72v20.64h-1.72zM407.47 175.6h1.72v11.42h-1.72zM409.39 182.4h1.72v4.74h-1.72zM411.32 180.48h1.72v6.77h-1.72zM413.25 177.3h1.72v10.85h-1.72zM415.17 179.03h1.72v10.61h-1.72zM417.1 183.01h1.72v7.97h-1.72zM419.03 187.5h1.72v4.56h-1.72zM420.96 190.1h1.72v3.04h-1.72zM430.6 181.76h1.72v15.1h-1.72zM432.52 177.56h1.72v19.52h-1.72zM434.45 178.35h1.72v18.97h-1.72zM436.38 184.13h1.72v13.03h-1.72zM438.3 190.01h1.72v6.84h-1.72zM440.23 194.19h1.72v2.35h-1.72zM442.16 195.12h1.72v1.3h-1.72zM444.09 195.82h1.72v0.65h-1.72zM446.01 196.08h1.72v0.44h-1.72zM446.01 201.67h1.72v3.17h-1.72zM447.94 196.37h1.72v0.2h-1.72zM447.94 201.97h1.72v2.37h-1.72zM449.87 202h1.72v7.54h-1.72zM451.8 202h1.72v10.4h-1.72zM453.73 201.92h1.72v13.47h-1.72zM455.65 201.62h1.72v15.3h-1.72zM457.58 201.32h1.72v9.04h-1.72zM459.51 201h1.72v7.43h-1.72zM461.43 200.66h1.72v6.67h-1.72zM463.36 200.33h1.72v7.07h-1.72zM465.29 200.09h1.72v8.5h-1.72zM467.22 199.87h1.72v4.72h-1.72zM469.14 199.64h1.72v2.45h-1.72zM471.07 197.3h1.72v1.8h-1.72zM473 192.2h1.72v4.78h-1.72zM474.93 188.7h1.72v6.68h-1.72zM476.86 190.24h1.72v3.53h-1.72zM478.78 191.3h1.72v1.13h-1.72zM480.71 182.75h1.72v8.4h-1.72zM482.64 180.98h1.72v9h-1.72zM484.56 182.62h1.72v6.72h-1.72zM486.49 185.5h1.72v3.19h-1.72zM498.06 191.65h1.72v0.21h-1.72zM498.06 199.1h1.72v32.91h-1.72zM501.91 190.7h1.72v1.64h-1.72zM503.84 188.28h1.72v4.3h-1.72zM505.77 185.8h1.72v6.7h-1.72zM507.69 184.1h1.72v8.16h-1.72zM509.62 180.7h1.72v10.1h-1.72zM511.55 177.82h1.72v12.3h-1.72zM513.48 175.79h1.72v14.48h-1.72zM515.4 177.06h1.72v13.36h-1.72zM517.33 181.93h1.72v9.09h-1.72zM519.26 187.46h1.72v4.7h-1.72zM521.19 188.81h1.72v4.48h-1.72zM526.97 192.2h1.72v4.78h-1.72zM528.9 193.1h1.72v4.2h-1.72zM530.83 194.8h1.72v2.82h-1.72zM532.75 195.92h1.72v1.94h-1.72zM534.68 196.02h1.72v1.98h-1.72zM536.61 195.3h1.72v2.84h-1.72zM536.61 199.1h1.72v6.73h-1.72zM538.53 194h1.72v4.29h-1.72zM538.53 201.64h1.72v6.16h-1.72zM540.46 194.3h1.72v4.08h-1.72zM540.46 204.84h1.72v9.66h-1.72zM542.39 194.43h1.72v4.04h-1.72zM542.39 208.32h1.72v12.08h-1.72zM544.32 212.17h1.72v13.44h-1.72zM546.25 216.03h1.72v13.17h-1.72zM548.17 219.88h1.72v21.02h-1.72zM550.1 223.74h1.72v20.06h-1.72zM552.03 228.14h1.72v1.96h-1.72zM553.96 232.64h1.72v7.26h-1.72zM555.88 237.14h1.72v10.28h-1.72zM559.74 185.3h1.72v13.8h-1.72zM561.66 184.41h1.72v14.69h-1.72zM563.59 177.49h1.72v21.61h-1.72zM565.52 191.29h1.72v7.81h-1.72zM567.45 192.25h1.72v6.85h-1.72zM569.38 197.81h1.72v1.29h-1.72zM573.23 198.03h1.72v1.07h-1.72zM582.87 198.7h1.72v0.4h-1.72zM584.79 197.5h1.72v1.6h-1.72zM586.72 195.3h1.72v3.8h-1.72zM588.65 197.9h1.72v1.2h-1.72zM590.58 196.5h1.72v2.6h-1.72zM592.5 197h1.72v2.1h-1.72zM594.43 191.17h1.72v7.93h-1.72zM596.36 186.79h1.72v12.31h-1.72zM598.29 192.16h1.72v6.94h-1.72zM600.21 193.82h1.72v5.28h-1.72zM602.14 194.36h1.72v4.74h-1.72zM604.07 194.65h1.72v4.45h-1.72zM606 193.94h1.72v5.16h-1.72zM607.92 192.08h1.72v7.01h-1.72zM609.85 188.47h1.72v8.47h-1.72zM611.78 190.35h1.72v4.43h-1.72zM613.71 189.32h1.72v2.7h-1.72zM615.63 188.6h1.72v0.68h-1.72z" fill="#7099c5"/>
<path d="M79.79 164.6h1.72v2.2h-1.72zM81.72 199.1h1.72v0.17h-1.72zM85.57 217.35h1.72v9.46h-1.72zM87.5 222.2h1.72v25.29h-1.72zM89.43 220.94h1.72v30.07h-1.72zM91.36 215.92h1.72v27.49h-1.72zM93.28 209.98h1.72v41.98h-1.72zM95.21 204.59h1.72v34.81h-1.72zM97.14 199.1h1.72v39.5h-1.72zM99.07 199.1h1.72v49.94h-1.72zM100.99 199.1h1.72v53.91h-1.72zM102.92 199.1h1.72v57.88h-1.72zM104.85 199.1h1.72v60.66h-1.72zM106.78 199.1h1.72v62.94h-1.72zM108.7 199.1h1.72v65.56h-1.72zM110.63 199.1h1.72v65.75h-1.72zM112.56 199.1h1.72v61.33h-1.72zM114.48 199.1h1.72v52.52h-1.72zM116.41 199.1h1.72v50.22h-1.72zM118.34 199.1h1.72v51.62h-1.72zM120.27 199.1h1.72v55.9h-1.72zM122.2 199.29h1.72v59.71h-1.72zM124.12 202.5h1.72v60h-1.72zM126.05 202.5h1.72v56.5h-1.72zM127.98 199.1h1.72v48.92h-1.72zM129.91 199.1h1.72v43.4h-1.72zM131.83 199.1h1.72v39.9h-1.72zM133.76 199.1h1.72v37.3h-1.72zM135.69 199.1h1.72v33.4h-1.72zM137.62 199.1h1.72v30.9h-1.72zM139.54 199.1h1.72v32.7h-1.72zM141.47 199.1h1.72v34.3h-1.72zM143.4 199.1h1.72v37.7h-1.72zM145.32 199.1h1.72v36.05h-1.72zM147.25 199.1h1.72v35.45h-1.72zM149.18 222.3h1.72v12.8h-1.72zM151.11 222.3h1.72v24.7h-1.72zM153.03 222.3h1.72v23.9h-1.72zM154.96 199.19h1.72v46.81h-1.72zM156.89 190h1.72v2.45h-1.72zM158.82 188h1.72v4.84h-1.72zM160.75 187.77h1.72v5.45h-1.72zM162.67 187.04h1.72v6.57h-1.72zM164.6 185.68h1.72v8.31h-1.72zM166.53 183.81h1.72v10.56h-1.72zM168.45 183.39h1.72v11.38h-1.72zM170.38 182.66h1.72v12.49h-1.72zM172.31 183.53h1.72v12.05h-1.72zM174.24 184.82h1.72v11.73h-1.72zM176.16 191.99h1.72v6.04h-1.72zM178.09 205.95h1.72v6.05h-1.72zM180.02 207.88h1.72v9.32h-1.72zM181.95 208.9h1.72v11.7h-1.72zM183.88 209.87h1.72v8.25h-1.72zM185.8 210.51h1.72v4.09h-1.72zM187.73 210.53h1.72v4.36h-1.72zM189.66 210.56h1.72v4.74h-1.72zM191.58 210.58h1.72v5.68h-1.72zM193.51 211.33h1.72v6.5h-1.72zM195.44 214.76h1.72v11.24h-1.72zM197.37 216.45h1.72v11.55h-1.72zM199.29 218.12h1.72v11.38h-1.72zM201.22 219.56h1.72v15.44h-1.72zM203.15 232.02h1.72v7.47h-1.72zM205.08 236.84h1.72v10.09h-1.72zM207 237.62h1.72v12.19h-1.72zM208.93 231.66h1.72v11.22h-1.72zM210.86 235.16h1.72v12.84h-1.72zM212.79 239.3h1.72v17.7h-1.72zM214.72 242.63h1.72v19.63h-1.72zM216.64 245.9h1.72v21.1h-1.72zM218.57 249.37h1.72v28.63h-1.72zM220.5 242.42h1.72v27.58h-1.72zM222.42 217.15h1.72v30.85h-1.72zM224.35 225.43h1.72v23.57h-1.72zM226.28 224.72h1.72v37.28h-1.72zM228.21 224.6h1.72v31.4h-1.72zM230.13 230.64h1.72v22.36h-1.72zM241.7 262.36h1.72v36.14h-1.72zM243.63 205.81h1.72v39.71h-1.72zM245.55 205.57h1.72v20.43h-1.72zM247.48 204.96h1.72v19.62h-1.72zM249.41 204.19h1.72v20.08h-1.72zM251.34 203.48h1.72v20.62h-1.72zM253.26 203.32h1.72v20.34h-1.72zM255.19 203.16h1.72v21.92h-1.72zM257.12 203h1.72v25h-1.72zM259.05 203h1.72v22h-1.72zM260.98 203h1.72v16h-1.72zM262.9 203h1.72v6.5h-1.72zM266.76 143.5h1.72v18.31h-1.72zM268.69 146h1.72v16.77h-1.72zM270.61 136h1.72v33.63h-1.72zM272.54 133.2h1.72v38.63h-1.72zM274.47 135.5h1.72v38.26h-1.72zM276.39 142.5h1.72v33.37h-1.72zM278.32 149.8h1.72v28.77h-1.72zM280.25 160.5h1.72v20.78h-1.72zM282.18 166h1.72v14.02h-1.72zM284.11 166h1.72v14.98h-1.72zM286.03 154.85h1.72v28.99h-1.72zM287.96 161.05h1.72v22.95h-1.72zM289.89 174.67h1.72v17.19h-1.72zM291.81 187.79h1.72v8.61h-1.72zM293.74 196.91h1.72v1.6h-1.72zM295.67 194.74h1.72v2.28h-1.72zM297.6 190.93h1.72v3.71h-1.72zM299.52 189h1.72v3.52h-1.72zM301.45 187.27h1.72v4.53h-1.72zM303.38 186h1.72v5.07h-1.72zM305.31 183.83h1.72v6.52h-1.72zM307.24 179.44h1.72v10.03h-1.72zM309.16 142.2h1.72v16.72h-1.72zM311.09 116.64h1.72v37.28h-1.72zM313.02 133.3h1.72v24.89h-1.72zM314.94 155.4h1.72v7.97h-1.72zM316.87 162.12h1.72v4.29h-1.72zM316.87 210.75h1.72v0.25h-1.72zM318.8 141.64h1.72v23.54h-1.72zM320.73 133.16h1.72v25.88h-1.72zM322.65 128.88h1.72v26.38h-1.72zM324.58 131.5h1.72v22.18h-1.72zM326.51 140.92h1.72v15.61h-1.72zM328.44 145.14h1.72v17.24h-1.72zM330.37 162.26h1.72v8.23h-1.72zM332.29 169.73h1.72v4.58h-1.72zM332.29 199.1h1.72v1.7h-1.72zM334.22 174.94h1.72v0.94h-1.72zM334.22 199.1h1.72v1.7h-1.72zM336.15 199.1h1.72v1.7h-1.72zM338.08 199.1h1.72v1.7h-1.72zM340 212h1.72v4.3h-1.72zM341.93 211.56h1.72v9.04h-1.72zM343.86 210.62h1.72v15.08h-1.72zM345.78 207.08h1.72v22.92h-1.72zM347.71 203.55h1.72v16.15h-1.72zM349.64 199.1h1.72v17.2h-1.72zM351.57 199.1h1.72v18.43h-1.72zM353.5 199.1h1.72v19.8h-1.72zM355.42 199.1h1.72v22.4h-1.72zM357.35 199.1h1.72v23.5h-1.72zM359.28 199.1h1.72v23.35h-1.72zM361.21 199.1h1.72v23.2h-1.72zM363.13 199.1h1.72v18.9h-1.72zM365.06 199.1h1.72v13.8h-1.72zM366.99 206h1.72v10.3h-1.72zM368.91 206.17h1.72v4.23h-1.72zM374.7 179.49h1.72v1.14h-1.72zM376.62 172.64h1.72v4.96h-1.72zM378.55 163.04h1.72v11.48h-1.72zM380.48 153.14h1.72v18.26h-1.72zM382.41 134.59h1.72v36.57h-1.72zM384.34 141.62h1.72v30.9h-1.72zM386.26 150.38h1.72v27.28h-1.72zM388.19 159.84h1.72v22.26h-1.72zM390.12 167.7h1.72v18.26h-1.72zM392.04 175.59h1.72v11.37h-1.72zM393.97 178.66h1.72v9.26h-1.72zM395.9 178.03h1.72v10.71h-1.72zM397.83 175.18h1.72v14.14h-1.72zM399.75 179.28h1.72v9.18h-1.72zM405.54 199.1h1.72v2.2h-1.72zM407.47 199.1h1.72v2.49h-1.72zM409.39 199.1h1.72v2.7h-1.72zM411.32 199.1h1.72v2.92h-1.72zM413.25 199.1h1.72v3.11h-1.72zM415.17 199.1h1.72v3.1h-1.72zM417.1 199.1h1.72v2.9h-1.72zM419.03 199.1h1.72v2.7h-1.72zM420.96 199.1h1.72v0.7h-1.72zM422.88 189.2h1.72v4.9h-1.72zM422.88 199.1h1.72v0.56h-1.72zM424.81 189.8h1.72v5.07h-1.72zM424.81 199.1h1.72v0.41h-1.72zM426.74 189.49h1.72v6.15h-1.72zM426.74 199.1h1.72v0.26h-1.72zM428.67 187.5h1.72v8.81h-1.72zM430.6 199.1h1.72v0.32h-1.72zM432.52 199.1h1.72v6.1h-1.72zM434.45 199.1h1.72v13h-1.72zM436.38 199.14h1.72v19.76h-1.72zM438.3 199.74h1.72v24.26h-1.72zM440.23 200.33h1.72v26.27h-1.72zM442.16 200.93h1.72v24.77h-1.72zM444.09 201.36h1.72v28.64h-1.72zM446.01 204.84h1.72v28.56h-1.72zM447.94 204.34h1.72v27.36h-1.72zM449.87 209.54h1.72v25.24h-1.72zM451.8 212.4h1.72v24.87h-1.72zM453.73 215.39h1.72v23.07h-1.72zM455.65 216.92h1.72v22.48h-1.72zM457.58 210.36h1.72v21.34h-1.72zM459.51 208.43h1.72v20.67h-1.72zM461.43 207.33h1.72v20.97h-1.72zM463.36 207.4h1.72v20.9h-1.72zM465.29 208.6h1.72v20.5h-1.72zM467.22 204.59h1.72v21.2h-1.72zM469.14 202.1h1.72v11.7h-1.72zM471.07 199.1h1.72v7.8h-1.72zM473 199.1h1.72v3.6h-1.72zM474.93 199.1h1.72v3.53h-1.72zM476.86 199.1h1.72v3.4h-1.72zM478.78 199.1h1.72v3.43h-1.72zM480.71 199.1h1.72v3.47h-1.72zM482.64 199.1h1.72v3.51h-1.72zM484.56 199.1h1.72v3.55h-1.72zM486.49 199.1h1.72v3.6h-1.72zM488.42 187.55h1.72v1.19h-1.72zM488.42 199.1h1.72v2.7h-1.72zM490.35 188.4h1.72v0.98h-1.72zM490.35 199.1h1.72v2.46h-1.72zM492.27 189.2h1.72v0.82h-1.72zM492.27 199.1h1.72v2.07h-1.72zM494.2 190.4h1.72v0.27h-1.72zM494.2 199.1h1.72v1.7h-1.72zM496.13 199.1h1.72v21.5h-1.72zM499.99 199.1h1.72v25.75h-1.72zM501.91 199.1h1.72v13.9h-1.72zM503.84 199.1h1.72v17.54h-1.72zM505.77 199.1h1.72v19.4h-1.72zM507.69 199.1h1.72v22.8h-1.72zM509.62 199.1h1.72v22.99h-1.72zM511.55 199.1h1.72v21.99h-1.72zM513.48 199.1h1.72v20.69h-1.72zM515.4 199.1h1.72v20.2h-1.72zM517.33 199.1h1.72v18.5h-1.72zM519.26 199.1h1.72v16h-1.72zM521.19 199.1h1.72v14.6h-1.72zM523.12 199.1h1.72v13.16h-1.72zM525.04 199.1h1.72v12.64h-1.72zM526.97 199.1h1.72v10.11h-1.72zM528.9 199.1h1.72v8.78h-1.72zM530.83 199.1h1.72v7.15h-1.72zM532.75 199.1h1.72v6.04h-1.72zM534.68 199.1h1.72v5.3h-1.72zM544.32 190.1h1.72v9h-1.72zM546.25 186.7h1.72v12.4h-1.72zM548.17 185.5h1.72v13.6h-1.72zM550.1 184.1h1.72v15h-1.72zM552.03 180.7h1.72v18.4h-1.72zM553.96 179h1.72v20.1h-1.72zM555.88 180.7h1.72v18.4h-1.72zM557.81 185h1.72v14.1h-1.72zM559.74 178.2h1.72v7.1h-1.72zM561.66 246.17h1.72v0.33h-1.72zM563.59 247.48h1.72v5.12h-1.72zM565.52 248.45h1.72v6.65h-1.72zM567.45 249.04h1.72v8.46h-1.72zM569.38 249.53h1.72v12.77h-1.72zM571.3 249.8h1.72v14.34h-1.72zM573.23 249.99h1.72v16.21h-1.72zM575.16 249.91h1.72v18.29h-1.72zM577.09 249.72h1.72v18.02h-1.72zM579.01 248.67h1.72v18.53h-1.72zM580.94 247.23h1.72v16.07h-1.72zM582.87 242.51h1.72v14.18h-1.72zM584.79 236.53h1.72v11.17h-1.72zM586.72 233.32h1.72v9.48h-1.72zM588.65 230.5h1.72v11.51h-1.72zM590.58 227.93h1.72v12.97h-1.72zM592.5 225.36h1.72v13.45h-1.72zM594.43 222.42h1.72v14.64h-1.72zM596.36 219.21h1.72v16.29h-1.72zM598.29 215.99h1.72v16.01h-1.72zM600.21 212.78h1.72v15.32h-1.72zM602.14 209.57h1.72v12.73h-1.72zM604.07 206.36h1.72v10.04h-1.72zM606 203.47h1.72v7.13h-1.72zM607.92 200.9h1.72v6.3h-1.72zM609.85 201.58h1.72v3.22h-1.72zM611.78 202.22h1.72v5.48h-1.72zM613.71 202.47h1.72v15.93h-1.72zM615.63 202.72h1.72v20.08h-1.72z" fill="#72b077"/>
<path d="M79.79 199.16h1.72v2.7h-1.72zM81.72 199.27h1.72v2.35h-1.72zM83.65 199.1h1.72v1.9h-1.72zM85.57 226.81h1.72v2.29h-1.72zM87.5 247.49h1.72v5.72h-1.72zM89.43 251.01h1.72v7.99h-1.72zM91.36 243.41h1.72v2.59h-1.72zM93.28 251.96h1.72v7.84h-1.72zM95.21 239.4h1.72v3.6h-1.72zM97.14 238.6h1.72v7.6h-1.72zM99.07 249.04h1.72v2.26h-1.72zM100.99 253.01h1.72v1.49h-1.72zM102.92 256.98h1.72v2.52h-1.72zM104.85 259.76h1.72v2.74h-1.72zM106.78 262.04h1.72v2.96h-1.72zM108.7 264.66h1.72v2.84h-1.72zM110.63 264.85h1.72v2.65h-1.72zM112.56 260.43h1.72v2.57h-1.72zM114.48 251.62h1.72v2.88h-1.72zM116.41 249.32h1.72v3.18h-1.72zM118.34 250.72h1.72v2.28h-1.72zM120.27 179h1.72v0.28h-1.72zM120.27 255h1.72v1h-1.72zM122.2 186.5h1.72v0.55h-1.72zM122.2 259h1.72v1h-1.72zM124.12 186h1.72v0.73h-1.72zM124.12 262.5h1.72v1h-1.72zM126.05 185.2h1.72v1h-1.72zM126.05 259h1.72v1h-1.72zM127.98 185.5h1.72v1h-1.72zM127.98 248.02h1.72v0.58h-1.72zM129.91 187.5h1.72v1.25h-1.72zM131.83 190h1.72v1.19h-1.72zM133.76 190.5h1.72v1.06h-1.72zM135.69 189h1.72v0.6h-1.72zM137.62 186.5h1.72v0.72h-1.72zM139.54 188.5h1.72v0.85h-1.72zM141.47 187.5h1.72v0.97h-1.72zM143.4 186.5h1.72v1.09h-1.72zM145.32 187.5h1.72v1.3h-1.72zM147.25 183h1.72v2.39h-1.72zM149.18 188h1.72v2.5h-1.72zM151.11 188.8h1.72v2.45h-1.72zM153.03 189.2h1.72v2.48h-1.72zM154.96 188h1.72v2.5h-1.72zM156.89 187.5h1.72v2.5h-1.72zM158.82 185.5h1.72v2.5h-1.72zM160.75 185h1.72v2.77h-1.72zM162.67 184h1.72v3.04h-1.72zM164.6 182.5h1.72v3.18h-1.72zM166.53 180.5h1.72v3.31h-1.72zM168.45 180h1.72v3.39h-1.72zM170.38 179.2h1.72v3.46h-1.72zM172.31 180h1.72v3.53h-1.72zM174.24 181.2h1.72v3.62h-1.72zM176.16 188h1.72v3.99h-1.72zM178.09 196h1.72v3.02h-1.72zM180.02 196.2h1.72v2.9h-1.72zM181.95 196.5h1.72v2.6h-1.72zM183.88 196.2h1.72v2.9h-1.72zM185.8 191.5h1.72v2.51h-1.72zM187.73 189h1.72v3.2h-1.72zM189.66 190h1.72v3.21h-1.72zM191.58 187.5h1.72v3.23h-1.72zM193.51 184.8h1.72v3.24h-1.72zM195.44 190h1.72v3.26h-1.72zM197.37 190h1.72v3.27h-1.72zM199.29 189.5h1.72v3.28h-1.72zM201.22 189.5h1.72v3.3h-1.72zM203.15 194.8h1.72v4.3h-1.72zM203.15 239.5h1.72v0.5h-1.72zM205.08 195.57h1.72v3.53h-1.72zM205.08 246.94h1.72v1.06h-1.72zM207 196.16h1.72v2.94h-1.72zM207 249.81h1.72v1.19h-1.72zM208.93 196.72h1.72v2.38h-1.72zM210.86 197.27h1.72v1.83h-1.72zM212.79 197.81h1.72v1.29h-1.72zM214.72 198.3h1.72v0.8h-1.72zM232.06 289.31h1.72v0.69h-1.72zM233.99 324.5h1.72v1.5h-1.72zM235.92 308.5h1.72v1.5h-1.72zM237.84 298.5h1.72v1.5h-1.72zM239.77 295.5h1.72v1.5h-1.72zM241.7 298.5h1.72v8h-1.72zM243.63 245.52h1.72v7.98h-1.72zM245.55 226h1.72v8h-1.72zM247.48 224.59h1.72v5.41h-1.72zM249.41 224.27h1.72v4.73h-1.72zM251.34 224.1h1.72v2.9h-1.72zM253.26 223.67h1.72v1.83h-1.72zM266.76 142.5h1.72v1h-1.72zM268.69 145h1.72v1h-1.72zM270.61 135h1.72v1h-1.72zM272.54 132.2h1.72v1h-1.72zM274.47 134.5h1.72v1h-1.72zM276.39 141.5h1.72v1h-1.72zM278.32 148.8h1.72v1h-1.72zM280.25 159.5h1.72v1h-1.72zM282.18 165h1.72v1h-1.72zM284.11 165h1.72v1h-1.72zM286.03 151.8h1.72v3.05h-1.72zM287.96 160h1.72v1.05h-1.72zM289.89 173.5h1.72v1.17h-1.72zM291.81 186.5h1.72v1.29h-1.72zM293.74 195.5h1.72v1.41h-1.72zM295.67 193.5h1.72v1.24h-1.72zM297.6 190.43h1.72v0.5h-1.72zM299.52 188.5h1.72v0.5h-1.72zM301.45 186.77h1.72v0.5h-1.72zM303.38 185.5h1.72v0.5h-1.72zM303.38 270.4h1.72v1.2h-1.72zM305.31 183.33h1.72v0.5h-1.72zM305.31 257.8h1.72v1.2h-1.72zM307.24 178.94h1.72v0.5h-1.72zM307.24 227.5h1.72v1.2h-1.72zM309.16 141.7h1.72v0.5h-1.72zM311.09 114.9h1.72v1.74h-1.72zM313.02 131.5h1.72v1.8h-1.72zM314.94 154.5h1.72v0.9h-1.72zM316.87 161.3h1.72v0.82h-1.72zM318.8 140.8h1.72v0.84h-1.72zM320.73 132.3h1.72v0.86h-1.72zM322.65 128h1.72v0.88h-1.72zM324.58 130.6h1.72v0.9h-1.72zM326.51 140h1.72v0.92h-1.72zM328.44 144.2h1.72v0.94h-1.72zM330.37 161.3h1.72v0.96h-1.72zM332.29 168.75h1.72v0.98h-1.72zM334.22 173.9h1.72v1.04h-1.72zM336.15 173h1.72v1.48h-1.72zM338.08 176.59h1.72v1.45h-1.72zM340 179.9h1.72v1.42h-1.72zM341.93 182.4h1.72v1.39h-1.72zM343.86 183.14h1.72v1.35h-1.72zM345.78 184.3h1.72v1.32h-1.72zM347.71 183.42h1.72v1.01h-1.72zM349.64 179.9h1.72v0.3h-1.72zM351.57 185h1.72v0.3h-1.72zM353.5 148.5h1.72v2.71h-1.72zM355.42 158.7h1.72v2.57h-1.72zM357.35 161.3h1.72v2.35h-1.72zM359.28 166.4h1.72v2.13h-1.72zM361.21 172.4h1.72v1.92h-1.72zM363.13 173.9h1.72v1.7h-1.72zM365.06 180.7h1.72v1.7h-1.72zM366.99 180.7h1.72v1.7h-1.72zM368.91 180.7h1.72v1.7h-1.72zM370.84 180.7h1.72v1.7h-1.72zM372.77 180.7h1.72v1.53h-1.72zM374.7 179h1.72v0.49h-1.72zM376.62 172.2h1.72v0.44h-1.72zM378.55 162.65h1.72v0.39h-1.72zM380.48 152.8h1.72v0.34h-1.72zM382.41 134h1.72v0.59h-1.72zM384.34 139.1h1.72v2.52h-1.72zM386.26 147.7h1.72v2.68h-1.72zM388.19 157h1.72v2.84h-1.72zM390.12 164.7h1.72v3h-1.72zM392.04 173.3h1.72v2.29h-1.72zM393.97 177.1h1.72v1.56h-1.72zM395.9 176.77h1.72v1.25h-1.72zM397.83 174.2h1.72v0.98h-1.72zM399.75 178.65h1.72v0.64h-1.72zM405.54 201.3h1.72v0.7h-1.72zM407.47 201.59h1.72v0.7h-1.72zM409.39 201.8h1.72v0.7h-1.72zM411.32 202.02h1.72v0.7h-1.72zM413.25 202.21h1.72v0.7h-1.72zM415.17 202.2h1.72v0.7h-1.72zM417.1 202h1.72v0.7h-1.72zM419.03 201.8h1.72v0.7h-1.72zM420.96 199.8h1.72v0.7h-1.72zM422.88 199.66h1.72v0.7h-1.72zM424.81 199.51h1.72v0.7h-1.72zM426.74 199.36h1.72v0.7h-1.72zM428.67 199.21h1.72v0.7h-1.72zM430.6 199.42h1.72v0.38h-1.72zM432.52 175.6h1.72v1.96h-1.72zM434.45 176.5h1.72v1.85h-1.72zM436.38 182.4h1.72v1.73h-1.72zM438.3 188.4h1.72v1.61h-1.72zM440.23 192.7h1.72v1.49h-1.72zM442.16 193.82h1.72v1.3h-1.72zM444.09 194.56h1.72v1.26h-1.72zM446.01 194.87h1.72v1.21h-1.72zM447.94 195.2h1.72v1.17h-1.72zM449.87 195.51h1.72v1.12h-1.72zM451.8 195.85h1.72v1.06h-1.72zM453.73 196.1h1.72v1.03h-1.72zM455.65 196.71h1.72v0.66h-1.72zM457.58 197.21h1.72v0.46h-1.72zM459.51 197.67h1.72v0.29h-1.72zM465.29 198.77h1.72v0.33h-1.72zM471.07 196.1h1.72v1.2h-1.72zM473 191h1.72v1.2h-1.72zM474.93 187.5h1.72v1.2h-1.72zM476.86 189.04h1.72v1.2h-1.72zM478.78 190.1h1.72v1.2h-1.72zM480.71 181.6h1.72v1.15h-1.72zM482.64 179.9h1.72v1.08h-1.72zM484.56 181.6h1.72v1.02h-1.72zM486.49 184.84h1.72v0.66h-1.72zM488.42 187.37h1.72v0.18h-1.72zM498.06 232.01h1.72v3.09h-1.72zM499.99 224.85h1.72v0.85h-1.72zM501.91 213h1.72v0.8h-1.72zM503.84 216.64h1.72v0.56h-1.72zM505.77 218.5h1.72v0.4h-1.72zM507.69 221.9h1.72v0.4h-1.72zM509.62 222.09h1.72v0.4h-1.72zM511.55 176.5h1.72v1.32h-1.72zM511.55 221.09h1.72v0.4h-1.72zM513.48 174.4h1.72v1.39h-1.72zM513.48 219.79h1.72v0.4h-1.72zM515.4 175.6h1.72v1.46h-1.72zM515.4 219.3h1.72v0.4h-1.72zM517.33 180.4h1.72v1.53h-1.72zM517.33 217.6h1.72v0.4h-1.72zM519.26 185.8h1.72v1.66h-1.72zM519.26 215.1h1.72v0.4h-1.72zM521.19 186.2h1.72v2.61h-1.72zM521.19 213.7h1.72v0.4h-1.72zM523.12 192.7h1.72v3h-1.72zM523.12 212.26h1.72v0.4h-1.72zM525.04 195.2h1.72v1.19h-1.72zM525.04 211.74h1.72v0.36h-1.72zM526.97 189.2h1.72v3h-1.72zM526.97 209.21h1.72v0.29h-1.72zM528.9 190.1h1.72v3h-1.72zM528.9 207.88h1.72v0.21h-1.72zM530.83 191.8h1.72v3h-1.72zM532.75 192.92h1.72v3h-1.72zM534.68 193.02h1.72v3h-1.72zM536.61 192.3h1.72v3h-1.72zM538.53 191h1.72v3h-1.72zM540.46 191.3h1.72v3h-1.72zM542.39 191.8h1.72v2.62h-1.72zM555.88 247.41h1.72v0.29h-1.72zM561.66 183.3h1.72v1.1h-1.72zM563.59 176h1.72v1.49h-1.72zM565.52 189.5h1.72v1.79h-1.72zM567.45 190.5h1.72v1.75h-1.72zM569.38 196.1h1.72v1.71h-1.72zM571.3 197.8h1.72v1.3h-1.72zM573.23 196.4h1.72v1.63h-1.72zM575.16 198.1h1.72v1h-1.72zM577.09 198.48h1.72v0.62h-1.72zM579.01 198.89h1.72v0.21h-1.72zM580.94 198.26h1.72v0.84h-1.72zM582.87 196.9h1.72v1.8h-1.72zM584.79 195.7h1.72v1.8h-1.72zM586.72 193.5h1.72v1.8h-1.72zM588.65 196.1h1.72v1.8h-1.72zM590.58 194.7h1.72v1.8h-1.72zM592.5 195.2h1.72v1.8h-1.72zM594.43 189.2h1.72v1.97h-1.72zM596.36 184.6h1.72v2.19h-1.72zM598.29 190.1h1.72v2.06h-1.72zM600.21 191.8h1.72v2.02h-1.72zM602.14 192.3h1.72v2.06h-1.72zM604.07 192.55h1.72v2.1h-1.72zM606 191.81h1.72v2.14h-1.72zM607.92 189.91h1.72v2.18h-1.72zM609.85 186.2h1.72v2.27h-1.72zM611.78 187.9h1.72v2.45h-1.72zM613.71 186.7h1.72v2.62h-1.72zM615.63 185.8h1.72v2.8h-1.72z" fill="#d97575"/>
</g>
<path d="M79.1 199.2H618.2" stroke="#3a3020" stroke-width="0.45" stroke-opacity="0.75" fill="none"/>
<polyline points="80.1,167 82.6,176 84,194.6 85.7,215.5 87.4,229.1 89.1,244.5 90.8,246.2 92,231.7 93.4,244.5 95.1,246.2 96.8,234.2 98.5,222.3 100.2,212.1 101.9,224 103.6,226.6 105.3,212.1 107,212.1 108.7,218.9 111.3,223.2 113.8,229.1 116.4,225.7 119,226.6 121.5,234.2 123.2,246.2 124.9,250.5 126.6,249.6 128.3,241.1 130,233.4 132.6,230 135.2,227.4 137.7,220.6 139.4,218 142,220.6 144.6,223.2 146.3,224 148,217.2 149.7,220.6 151.4,229.1 152.7,236.8 153.9,236 155.6,215.5 156.5,199 157,193 159,192.5 160,191 162,187 164,184 165.5,182.5 167,185 168,187 169.5,184 171,185 173,186 175,185.5 176.5,188 177.3,196 178.7,208.7 180.4,213.8 182.4,217.2 184.7,213.8 187.2,206.1 188.9,203.5 191.5,205.2 194.9,206.1 197.5,213.8 200,217.2 203.4,225.7 204.5,236 206,244 207.5,247 209.5,240 211,246 214,256 217,266 219.5,277 222,261 224,245.5 225.5,245 227.5,260.5 230,251 231.5,250.5 232,266 233,290 234.6,325.6 236.5,301.7 238,285 239.6,268 241,250 242,243.8 242.9,277 243.8,240 244.7,199 245.7,164 246.9,138.5 247.8,125 248.5,105.8 250.6,95.3 252.5,82.8 253.7,95.3 254.6,105.8 256.9,107.9 258.6,131 260,156 262.5,157.5 264,170 265.5,157 267.5,146.5 269,157 271.5,168 273.5,160 274.5,152 275.2,146 277,147.5 278.5,152 280,158 281.5,167 282.5,176 283.5,179.5 285,174 286.2,164 287.2,159.5 288.2,162 289.5,171 291,180 292.5,190 294,198 295.7,215 297.1,234.5 298.7,257.9 300.2,277.4 301.3,262 302.6,250 303.5,251 304.5,257 305.5,252 306.5,240.4 308,224.8 308.8,213 309.4,199.3 309.4,175 311.1,139.1 312.3,127.2 314.5,147.7 317.1,168.1 319.6,147.7 322.2,138.3 325.3,135.7 327.3,141.7 330.4,146 332.4,163 334.1,180.7 336.7,172.2 338.9,160.2 340.6,175.6 342.7,201.2 344.7,209.7 346.4,214.8 348.6,206.3 351.2,199.5 352.9,184.1 354.6,169.6 356.3,179 358.9,186.7 361.4,192.7 364,191 366.6,196.1 368.3,198.6 370.8,191 373.4,182.4 375.1,180.7 376.8,175.6 379.4,163.7 380.8,152.8 383.3,134 385.3,149.4 387,171.3 388.7,175.6 391.3,177.3 393,184.1 394.7,189.2 396.4,182.4 398.1,179 400.7,180.7 402.4,182.4 404.4,175.6 406.7,169.6 408.9,178.2 410.9,186.7 413.5,181.6 415.7,179.9 417.7,185 419.5,191.8 422,191 423.4,190.1 426.8,188.4 430.2,188.9 431.9,186.7 433.7,178.2 435,184.1 437.1,203 439.6,216.3 442.2,220.6 445.3,221.5 447,227.4 449,226.6 450.7,234.2 453.3,236 455.5,236.8 457.5,229.1 461.8,227.8 464.4,227.1 466.4,227.9 468.6,222.3 471.2,212.1 473.8,196.1 476,188.4 478,191 480.6,184.1 483.5,182.4 485.7,184.1 488.3,187.5 491.7,188.4 494.2,183.3 495.6,182.4 496.5,201.2 497.6,215.5 498.8,226.6 500.2,217.2 501.9,206.9 504.5,205.2 507,206.1 509.6,206.9 511.3,202.7 512.2,196.9 514.7,195.2 517.3,196.9 519.8,200.3 522.4,199.5 525,205.5 527.2,201.2 529.2,197.8 531.8,200.3 534.3,199.5 536.9,195.2 538.6,194.7 540.3,201.2 541.5,206.7 543,212.6 545,206.7 547.3,218.4 549.3,228.2 551.2,220.4 552.8,210.6 554.7,220.4 557.1,229.2 559,222.3 561.4,224.3 563.3,229.2 565.3,239.9 567.8,251.6 570.8,258.4 573.7,263.3 576.6,267.6 579.5,266.2 582.5,262.3 584.4,253.6 587.3,243.8 590.3,241.8 592.5,236 594.9,226 596.9,221.8 598.8,222.3 600.8,220.3 602.7,215.5 604.7,209.6 606.6,203.8 608.6,197.5 610.2,192.3 611.4,191 612.7,194 613.9,201.8 615.4,206.7 616.5,208.5" fill="none" stroke="#000" stroke-width="2.4" stroke-linejoin="round" stroke-linecap="round"/>
<g stroke="#a6a6a6" stroke-width="1.15" fill="none">
<rect x="79.1" y="40.8" width="539.1" height="317.2"/>
</g>
<g stroke="#9c9c9c" stroke-width="0.95" fill="none">
<path d="M100 358v-5.2M100 40.8v5.2M123.13 358v-5.2M123.13 40.8v5.2M146.26 358v-5.2M146.26 40.8v5.2M169.39 358v-5.2M169.39 40.8v5.2M192.52 358v-5.2M192.52 40.8v5.2M215.65 358v-5.2M215.65 40.8v5.2M238.78 358v-5.2M238.78 40.8v5.2M261.91 358v-5.2M261.91 40.8v5.2M285.04 358v-5.2M285.04 40.8v5.2M308.17 358v-5.2M308.17 40.8v5.2M331.3 358v-5.2M331.3 40.8v5.2M354.43 358v-5.2M354.43 40.8v5.2M377.56 358v-5.2M377.56 40.8v5.2M400.69 358v-5.2M400.69 40.8v5.2M423.82 358v-5.2M423.82 40.8v5.2M446.95 358v-5.2M446.95 40.8v5.2M470.08 358v-5.2M470.08 40.8v5.2M493.21 358v-5.2M493.21 40.8v5.2M516.34 358v-5.2M516.34 40.8v5.2M539.47 358v-5.2M539.47 40.8v5.2M562.6 358v-5.2M562.6 40.8v5.2M585.73 358v-5.2M585.73 40.8v5.2M608.86 358v-5.2M608.86 40.8v5.2M79.1 40.4h5.4M618.2 40.4h-5.4M79.1 93.3h5.4M618.2 93.3h-5.4M79.1 146.2h5.4M618.2 146.2h-5.4M79.1 199.1h5.4M618.2 199.1h-5.4M79.1 252h5.4M618.2 252h-5.4M79.1 304.9h5.4M618.2 304.9h-5.4M79.1 357.8h5.4M618.2 357.8h-5.4"/>
</g>
<g font-family="Liberation Serif, serif" font-size="9.3" fill="#333" stroke="#333" stroke-width="0.22">
<text transform="translate(96.7 373.3) rotate(-45)" text-anchor="middle" y="3.1">2003</text>
<text transform="translate(119.83 373.3) rotate(-45)" text-anchor="middle" y="3.1">2004</text>
<text transform="translate(142.96 373.3) rotate(-45)" text-anchor="middle" y="3.1">2005</text>
<text transform="translate(166.09 373.3) rotate(-45)" text-anchor="middle" y="3.1">2006</text>
<text transform="translate(189.22 373.3) rotate(-45)" text-anchor="middle" y="3.1">2007</text>
<text transform="translate(212.35 373.3) rotate(-45)" text-anchor="middle" y="3.1">2008</text>
<text transform="translate(235.48 373.3) rotate(-45)" text-anchor="middle" y="3.1">2009</text>
<text transform="translate(258.61 373.3) rotate(-45)" text-anchor="middle" y="3.1">2010</text>
<text transform="translate(281.74 373.3) rotate(-45)" text-anchor="middle" y="3.1">2011</text>
<text transform="translate(304.87 373.3) rotate(-45)" text-anchor="middle" y="3.1">2012</text>
<text transform="translate(328 373.3) rotate(-45)" text-anchor="middle" y="3.1">2013</text>
<text transform="translate(351.13 373.3) rotate(-45)" text-anchor="middle" y="3.1">2014</text>
<text transform="translate(374.26 373.3) rotate(-45)" text-anchor="middle" y="3.1">2015</text>
<text transform="translate(397.39 373.3) rotate(-45)" text-anchor="middle" y="3.1">2016</text>
<text transform="translate(420.52 373.3) rotate(-45)" text-anchor="middle" y="3.1">2017</text>
<text transform="translate(443.65 373.3) rotate(-45)" text-anchor="middle" y="3.1">2018</text>
<text transform="translate(466.78 373.3) rotate(-45)" text-anchor="middle" y="3.1">2019</text>
<text transform="translate(489.91 373.3) rotate(-45)" text-anchor="middle" y="3.1">2020</text>
<text transform="translate(513.04 373.3) rotate(-45)" text-anchor="middle" y="3.1">2021</text>
<text transform="translate(536.17 373.3) rotate(-45)" text-anchor="middle" y="3.1">2022</text>
<text transform="translate(559.3 373.3) rotate(-45)" text-anchor="middle" y="3.1">2023</text>
<text transform="translate(582.43 373.3) rotate(-45)" text-anchor="middle" y="3.1">2024</text>
<text transform="translate(605.56 373.3) rotate(-45)" text-anchor="middle" y="3.1">2025</text>
<text x="75.2" y="43" text-anchor="end">3</text>
<text x="622.2" y="43">3</text>
<text x="75.2" y="95.9" text-anchor="end">2</text>
<text x="622.2" y="95.9">2</text>
<text x="75.2" y="148.8" text-anchor="end">1</text>
<text x="622.2" y="148.8">1</text>
<text x="75.2" y="201.7" text-anchor="end">0</text>
<text x="622.2" y="201.7">0</text>
<text x="75.2" y="254.6" text-anchor="end">-1</text>
<text x="622.2" y="254.6">-1</text>
<text x="75.2" y="307.5" text-anchor="end">-2</text>
<text x="622.2" y="307.5">-2</text>
<text x="75.2" y="360.4" text-anchor="end">-3</text>
<text x="622.2" y="360.4">-3</text>
</g>
<text x="349" y="395.6" text-anchor="middle" font-family="Liberation Serif, serif" font-size="11.6" fill="#333" stroke="#333" stroke-width="0.15" textLength="30.3" lengthAdjust="spacingAndGlyphs">Année</text>
<text transform="translate(60.3 198.6) rotate(-90)" text-anchor="middle" font-family="Liberation Serif, serif" font-size="11" fill="#333" stroke="#333" stroke-width="0.15" textLength="108.5" lengthAdjust="spacingAndGlyphs">Points de pourcentage</text>
<g font-family="Liberation Serif, serif" font-size="11">
<text x="161.2" y="97.7" fill="#22ff22" stroke="#22ff22" stroke-width="0.2" textLength="71.7" lengthAdjust="spacingAndGlyphs">Assouplissement</text>
<text x="446.4" y="280.8" fill="#ff2a2a" stroke="#ff2a2a" stroke-width="0.2" textLength="58.5" lengthAdjust="spacingAndGlyphs">Durcissement</text>
</g>
<path d="M197 88.6V76" stroke="#00ff00" stroke-width="0.6" fill="none"/><path d="M197 69.8l3.1 7.6q-3.1-1.6-6.2 0z" fill="#00ff00"/>
<path d="M475.6 284.7V298" stroke="#ff0000" stroke-width="0.6" fill="none"/><path d="M475.6 303.8l2.6-7.4q-2.6 1.5-5.2 0z" fill="#ff0000"/>
<rect x="382.9" y="53.2" width="201" height="80" fill="#fff" stroke="#aaaaaa" stroke-width="1"/>
<g font-family="Liberation Serif, serif" font-size="9.6" fill="#333" stroke="#333" stroke-width="0.16">
<rect x="384.9" y="55.8" width="21.7" height="7.6" fill="#FFCB3D"/>
<rect x="384.9" y="67" width="21.7" height="7.6" fill="#8846B5"/>
<rect x="384.9" y="78.2" width="21.7" height="7.6" fill="#989898"/>
<rect x="384.9" y="89.4" width="21.7" height="7.6" fill="#4C80B6"/>
<rect x="384.9" y="100.6" width="21.7" height="7.6" fill="#4F9C55"/>
<rect x="384.9" y="111.8" width="21.7" height="7.6" fill="#CF5252"/>
<text x="408" y="62.35" textLength="60.5" lengthAdjust="spacingAndGlyphs">Euribor 3 mois</text>
<text x="408" y="73.55" textLength="52" lengthAdjust="spacingAndGlyphs">OIS à 10 ans</text>
<text x="408" y="84.75" textLength="174" lengthAdjust="spacingAndGlyphs">Spread des obligations souveraines à 10 ans</text>
<text x="408" y="95.95" textLength="142.7" lengthAdjust="spacingAndGlyphs">Spread des obligations d’entreprises</text>
<text x="408" y="107.15" textLength="46.6" lengthAdjust="spacingAndGlyphs">NEER euro</text>
<text x="408" y="118.35" textLength="45" lengthAdjust="spacingAndGlyphs">Euro Stoxx</text>
<text x="408" y="129.55" textLength="13.5" lengthAdjust="spacingAndGlyphs">IIF</text>
</g>
<path d="M384.9 127.1h21.7" stroke="#000" stroke-width="2.2"/>
</g>
<defs><filter id="soft" x="0" y="0" width="730" height="410" filterUnits="userSpaceOnUse"><feGaussianBlur stdDeviation="0.4"/></filter></defs>
</svg>
</body></html>
